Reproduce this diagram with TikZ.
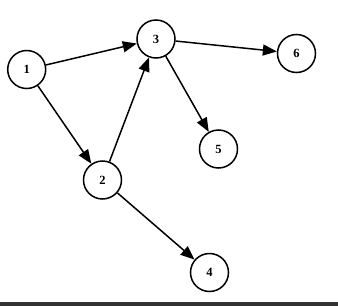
\documentclass[tikz,border=0pt]{standalone}
\usepackage{fontspec}
\setmainfont{Liberation Serif}
\usetikzlibrary{arrows.meta}
\begin{document}
\begin{tikzpicture}[x=1pt,y=-1pt,
  vertex/.style={circle,draw=black,line width=1.5pt,minimum size=38pt,inner sep=0pt,font=\fontsize{12.5}{12.5}\selectfont\bfseries},
  edge/.style={line width=1.5pt,-{Triangle[length=14pt,width=11pt]}}]
\useasboundingbox (0,0) rectangle (338,306);
\fill[white] (0,0) rectangle (338,306);
\fill[black!80] (0,302) rectangle (338,306);
\node[vertex] (n1) at (26.7,69.5) {1};
\node[vertex] (n3) at (156,39) {3};
\node[vertex] (n6) at (296.5,53.5) {6};
\node[vertex] (n5) at (218.5,149) {5};
\node[vertex] (n2) at (102.5,180) {2};
\node[vertex] (n4) at (209.5,272.5) {4};
\draw[edge] (n1) -- (n3);
\draw[edge] (n1) -- (n2);
\draw[edge] (n2) -- (n3);
\draw[edge] (n3) -- (n6);
\draw[edge] (n3) -- (n5);
\draw[edge] (n2) -- (n4);
\end{tikzpicture}
\end{document}
